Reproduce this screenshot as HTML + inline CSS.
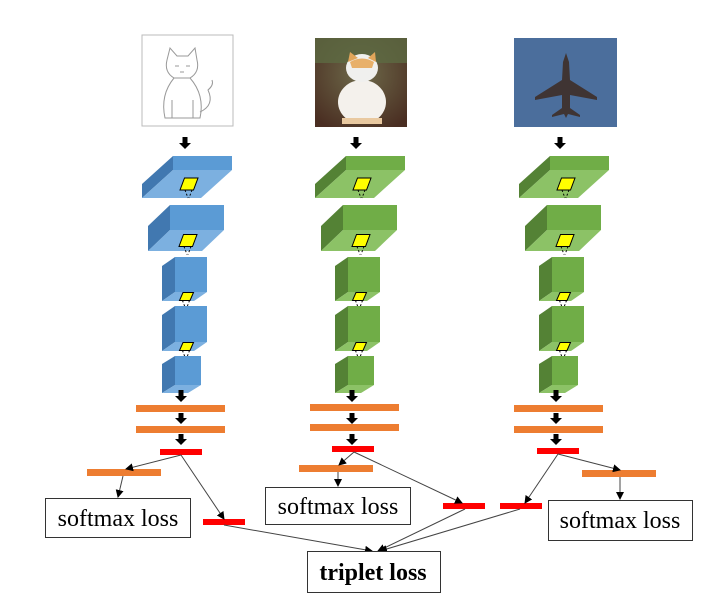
<!DOCTYPE html>
<html><head><meta charset="utf-8"><style>
html,body{margin:0;padding:0;background:#fff;width:718px;height:608px;overflow:hidden}
svg{display:block}
text{font-family:"Liberation Serif",serif}
</style></head><body>
<svg id="s" width="718" height="608" viewBox="0 0 718 608" xmlns="http://www.w3.org/2000/svg">
<defs>
<marker id="a" markerWidth="8" markerHeight="8" refX="7" refY="4" orient="auto" markerUnits="userSpaceOnUse"><path d="M0,0 L8,4 L0,8 z" fill="#000"/></marker>
<radialGradient id="bg1" cx="50%" cy="40%" r="70%"><stop offset="0" stop-color="#6e6a4a"/><stop offset="1" stop-color="#4a2e22"/></radialGradient>
</defs>
<rect x="142" y="35" width="91" height="91" fill="#fff" stroke="#bbb"/>
<g fill="none" stroke="#999" stroke-width="1">
<path d="M167,60 L170,48 L177,56 L188,56 L195,48 L197,60 Q200,72 190,78 L174,78 Q164,72 167,60z"/>
<path d="M174,78 Q160,95 165,118 L200,118 Q205,95 190,78"/>
<path d="M200,112 Q215,105 208,90 Q214,85 212,80"/>
<path d="M175,66 l4,0 M186,66 l4,0 M180,72 l4,0"/>
<path d="M172,100 L172,118 M193,100 L193,118"/>
</g>
<rect x="315" y="38" width="92" height="89" fill="url(#bg1)"/>
<rect x="315" y="38" width="92" height="25" fill="#5c6a42" opacity="0.8"/>
<ellipse cx="362" cy="102" rx="24" ry="22" fill="#f4f1ec"/>
<ellipse cx="362" cy="68" rx="16" ry="14" fill="#f0f0ee"/>
<path d="M348,62 L350,52 L358,58 Z M368,58 L375,52 L376,62 Z" fill="#e2a55a"/>
<path d="M350,62 Q362,55 374,62 L372,68 L352,68Z" fill="#e8b06a"/>
<rect x="342" y="118" width="40" height="6" fill="#e9c9a0"/>
<rect x="514" y="38" width="103" height="89" fill="#4b6e9c"/>
<path d="M566,53 L569,62 L570,80 L597,97 L597,100 L570,95 L570,108 L580,115 L580,117 L568,114 L566,118 L564,114 L552,117 L552,115 L562,108 L562,95 L535,100 L535,97 L562,80 L563,62 Z" fill="#3f3433"/>
<g id="blocks"></g>
<g id="arr" fill="#000"></g>
<g fill="#ed7d31">
<rect x="136" y="405" width="89" height="7"/><rect x="136" y="426" width="89" height="7"/>
<rect x="310" y="404" width="89" height="7"/><rect x="310" y="424" width="89" height="7"/>
<rect x="514" y="405" width="89" height="7"/><rect x="514" y="426" width="89" height="7"/>
<rect x="87" y="469" width="74" height="7"/><rect x="299" y="465" width="74" height="7"/><rect x="582" y="470" width="74" height="7"/>
</g>
<g fill="#ff0000">
<rect x="160" y="449" width="42" height="6"/><rect x="332" y="446" width="42" height="6"/><rect x="537" y="448" width="42" height="6"/>
<rect x="203" y="519" width="42" height="6"/><rect x="443" y="503" width="42" height="6"/><rect x="500" y="503" width="42" height="6"/>
</g>
<g stroke="#444" stroke-width="1" fill="none" marker-end="url(#a)">
<line x1="181" y1="455" x2="126" y2="469"/><line x1="181" y1="455" x2="224" y2="519"/>
<line x1="123" y1="476" x2="118" y2="497"/>
<line x1="354" y1="452" x2="339" y2="465"/><line x1="354" y1="452" x2="462" y2="503"/>
<line x1="338" y1="472" x2="338" y2="486"/>
<line x1="558" y1="454" x2="525" y2="503"/><line x1="558" y1="454" x2="620" y2="470"/>
<line x1="620" y1="477" x2="620" y2="499"/>
<line x1="224" y1="525" x2="372" y2="551"/><line x1="465" y1="509" x2="378" y2="551"/><line x1="520" y1="509" x2="380" y2="551"/>
</g>
<g fill="#fff" stroke="#333" stroke-width="1">
<rect x="45.5" y="498.5" width="145" height="39"/>
<rect x="265.5" y="487.5" width="145" height="37"/>
<rect x="548.5" y="500.5" width="144" height="40"/>
<rect x="307.5" y="551.5" width="133" height="41"/>
</g>
<g font-size="24" fill="#000" text-anchor="middle">
<text x="118" y="526">softmax loss</text>
<text x="338" y="514">softmax loss</text>
<text x="620" y="528">softmax loss</text>
<text x="373" y="580" font-weight="bold">triplet loss</text>
</g>
</svg>
<script>
var NS="http://www.w3.org/2000/svg",g=document.getElementById('blocks'),ar=document.getElementById('arr');
function el(t,a,p){var e=document.createElementNS(NS,t);for(var k in a)e.setAttribute(k,a[k]);(p||g).appendChild(e);return e;}
var blocks=[[173,232,156,170,31,28],[170,224,205,230,22,21],[175,207,257,292,13,9],[175,207,306,342,13,9],[175,201,356,385,13,8]];
var cols=[[0,"#5b9bd5","#4178b0","#7cb0e0"],[173,"#70ad47","#548235","#8cc266"],[377,"#70ad47","#548235","#8cc266"]];
cols.forEach(function(c){var s=c[0];
blocks.forEach(function(b,i){var x1=b[0]+s,x2=b[1]+s,y1=b[2],y2=b[3],dx=b[4],dy=b[5];
el('rect',{x:x1,y:y1,width:x2-x1,height:y2-y1,fill:c[1]});
el('polygon',{points:[x1,y1,x1,y2,x1-dx,y2+dy,x1-dx,y1+dy].join(','),fill:c[2]});
el('polygon',{points:[x1,y2,x2,y2,x2-dx,y2+dy,x1-dx,y2+dy].join(','),fill:c[3]});
if(i<4){var cx=(x1+x2-dx)/2+2,cy=y2+dy/2;var w=i<2?9:7,h=i<2?6:4;
el('polygon',{points:[cx-w,cy+h,cx-w/2+w,cy+h,cx+w,cy-h,cx-w/2,cy-h].join(','),fill:'#ffff00',stroke:'#000','stroke-width':1});
el('path',{d:'M'+(cx-4)+','+(cy+h)+' L'+(cx-1)+','+(cy+h+8)+' M'+(cx+3)+','+(cy+h)+' L'+(cx)+','+(cy+h+8),stroke:'#000','stroke-width':1,'stroke-dasharray':'2,2',fill:'none'});}
});
[[137,149],[390,402],[413,424],[434,445]].forEach(function(a){var cx=(s===0?185:s===173?356:560)-(a[0]>300?4:0);
el('rect',{x:cx-2.5,y:a[0],width:5,height:a[1]-a[0]-5},ar);
el('polygon',{points:[cx-6,a[1]-6,cx+6,a[1]-6,cx,a[1]].join(',')},ar);});
});
</script>
</body></html>
